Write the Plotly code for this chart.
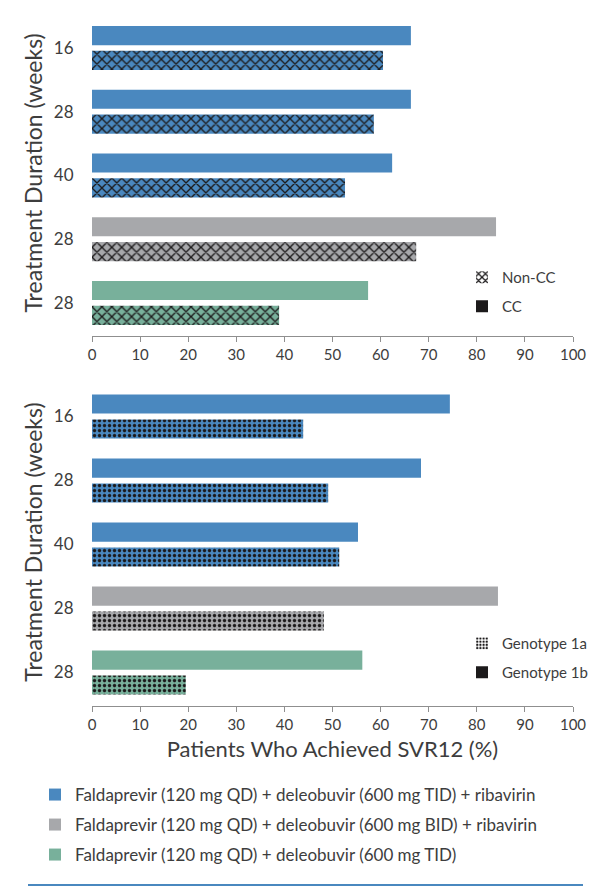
import plotly.graph_objects as go

# ---------------- data ----------------
durations = ["16", "28", "40", "28", "28"]          # treatment duration (weeks) per arm
arm_colors = ["#4A88BF", "#4A88BF", "#4A88BF", "#A7A8AB", "#78B09B"]

cc_svr = [66.3, 66.3, 62.4, 84.0, 57.4]        # IL28B CC
noncc_svr = [60.5, 58.6, 52.6, 67.4, 38.9]     # IL28B non-CC
gt1b_svr = [74.4, 68.4, 55.3, 84.4, 56.2]      # genotype 1b
gt1a_svr = [43.9, 49.1, 51.4, 48.2, 19.5]      # genotype 1a

treatments = [
    "Faldaprevir (120 mg QD) + deleobuvir (600 mg TID) + ribavirin",
    "Faldaprevir (120 mg QD) + deleobuvir (600 mg BID) + ribavirin",
    "Faldaprevir (120 mg QD) + deleobuvir (600 mg TID)",
]
treatment_colors = ["#4A88BF", "#A7A8AB", "#78B09B"]

x_ticks = list(range(0, 101, 10))
arm_pos = list(range(len(durations)))

FONT = "Lato, 'Open Sans', sans-serif"
TXT = "#3d3d3d"
AX = "#8f8f8f"
INK = "#1c1a1b"

W, H = 600, 895
BW = 0.30          # bar thickness (category units)
OFF_SOLID = -0.345
OFF_HATCH = 0.045

fig = go.Figure()

def add_panel(solid, hatched, shape, psize, psol, xa, ya):
    for i in arm_pos:
        col = arm_colors[i]
        fig.add_trace(go.Bar(
            x=[solid[i]], y=[arm_pos[i]], orientation="h", width=BW, offset=OFF_SOLID,
            marker=dict(color=col, line=dict(width=0)),
            showlegend=False, xaxis=xa, yaxis=ya, hoverinfo="x"))
        fig.add_trace(go.Bar(
            x=[hatched[i]], y=[arm_pos[i]], orientation="h", width=BW, offset=OFF_HATCH,
            marker=dict(color=col, line=dict(width=0),
                        pattern=dict(shape=shape, fgcolor=INK, bgcolor=col,
                                     size=psize, solidity=psol, fillmode="replace")),
            showlegend=False, xaxis=xa, yaxis=ya, hoverinfo="x"))

add_panel(cc_svr, noncc_svr, "x", 7, 0.35, "x", "y")
add_panel(gt1b_svr, gt1a_svr, ".", 5, 0.36, "x2", "y2")

# legend-only entries
def legend_entry(name, color, legend, pattern=None, xa="x", ya="y"):
    m = dict(color=color, line=dict(width=0))
    if pattern:
        m["pattern"] = pattern
    fig.add_trace(go.Bar(x=[None], y=[None], orientation="h", name=name,
                         marker=m, legend=legend, xaxis=xa, yaxis=ya,
                         showlegend=True))

legend_entry("Non-CC", "white", "legend",
             dict(shape="x", fgcolor=INK, bgcolor="white", size=6, solidity=0.45,
                  fillmode="replace"))
legend_entry("CC", INK, "legend2")
legend_entry("Genotype 1a", "white", "legend3",
             dict(shape=".", fgcolor=INK, bgcolor="white", size=4, solidity=0.45,
                  fillmode="replace"),
             "x2", "y2")
legend_entry("Genotype 1b", INK, "legend4", None, "x2", "y2")
for i, (t, c) in enumerate(zip(treatments, treatment_colors)):
    legend_entry(t, c, "legend%d" % (5 + i), None, "x2", "y2")

def py(p):
    return 1 - p / H

xdom = [92 / W, 573 / W]
xcommon = dict(range=[0, 100], tickvals=x_ticks, showline=True, linecolor=AX,
               linewidth=1, ticks="outside", ticklen=5, tickcolor=AX, tickwidth=1,
               showgrid=False, zeroline=False, domain=xdom, automargin=False,
               tickfont=dict(size=15, color=TXT, family=FONT), fixedrange=True)
ycommon = dict(tickvals=arm_pos, ticktext=durations, showline=False, showgrid=False,
               zeroline=False, ticks="outside", ticklen=14, tickcolor="rgba(0,0,0,0)",
               tickfont=dict(size=17, color=TXT, family=FONT), fixedrange=True,
               automargin=False,
               title=dict(text="Treatment Duration (weeks)", standoff=4,
                          font=dict(size=23, color=TXT, family=FONT)))

leg_common = dict(bgcolor="rgba(0,0,0,0)", borderwidth=0,
                  xanchor="left", yanchor="middle", itemclick=False,
                  itemdoubleclick=False)
small_font = dict(size=15, color=TXT, family=FONT)
big_font = dict(size=17, color=TXT, family=FONT)

fig.update_layout(
    width=W, height=H,
    margin=dict(l=0, r=0, t=0, b=0, autoexpand=False),
    paper_bgcolor="white", plot_bgcolor="white",
    barmode="overlay",
    font=dict(family=FONT, color=TXT),
    xaxis=dict(**xcommon, anchor="y"),
    yaxis=dict(**ycommon, range=[4.518, -0.6], domain=[py(336), py(9.75)], anchor="x"),
    xaxis2=dict(**xcommon, anchor="y2",
                title=dict(text="Patients Who Achieved SVR12 (%)", standoff=9,
                           font=dict(size=22, color=TXT, family=FONT))),
    yaxis2=dict(**ycommon, range=[4.523, -0.6], domain=[py(706), py(378.1)], anchor="x2"),
    legend=dict(**leg_common, font=small_font, x=462 / W, y=py(277.5)),
    legend2=dict(**leg_common, font=small_font, x=462 / W, y=py(306.5)),
    legend3=dict(**leg_common, font=small_font, x=462 / W, y=py(643.5)),
    legend4=dict(**leg_common, font=small_font, x=462 / W, y=py(672.5)),
    legend5=dict(**leg_common, font=big_font, x=35 / W, y=py(795)),
    legend6=dict(**leg_common, font=big_font, x=35 / W, y=py(825)),
    legend7=dict(**leg_common, font=big_font, x=35 / W, y=py(855)),
    shapes=[dict(type="line", xref="paper", yref="paper",
                 x0=28 / W, x1=583 / W, y0=py(885), y1=py(885),
                 line=dict(color="#4A88BF", width=2))],
)

fig.write_html("out.html", config={"displayModeBar": False},
               post_script="document.body.style.margin='0px';")
